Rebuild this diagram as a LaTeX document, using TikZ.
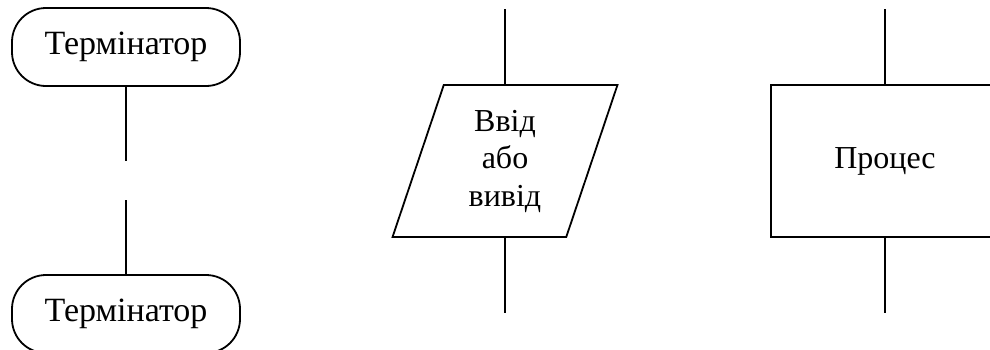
\documentclass[tikz,border=0pt]{standalone}
\usepackage{fontspec}
\setmainfont{Liberation Serif}
\usetikzlibrary{shapes.geometric}
\begin{document}
\begin{tikzpicture}[x=1pt,y=-1pt,
  line width=1.8pt,
  lbl/.style={font=\fontsize{32}{37.5}\selectfont, align=center},
  termbox/.style={lbl, font=\fontsize{34}{40}\selectfont, draw, rounded corners=34pt, minimum width=228pt, minimum height=78pt, inner sep=0pt, outer sep=0pt},
  iobox/.style={lbl, draw, trapezium, trapezium left angle=73.5, trapezium right angle=106.5, trapezium stretches=true, minimum width=225pt, minimum height=152pt, inner sep=0pt, outer sep=0pt},
  procbox/.style={lbl, draw, rectangle, minimum width=228pt, minimum height=152pt, inner sep=0pt, outer sep=0pt},
  conn/.style={draw, line width=1.8pt}
]
\useasboundingbox (0,0) rectangle (990,349);
\clip (0,0) rectangle (990,349);
\fill[white] (0,0) rectangle (990,349);
% left column
\node[termbox] (t1) at (126,47) {Термінатор};
\node[termbox] (t2) at (126,314) {Термінатор};
\coordinate (g1) at (126,161);
\coordinate (g2) at (126,200);
\draw[conn] (t1.south) -- (g1);
\draw[conn] (g2) -- (t2.north);
% middle column
\node[iobox] (io) at (505,161) {Ввід\\або\\вивід};
\coordinate (ioin) at (505,9);
\coordinate (ioout) at (505,313);
\draw[conn] (ioin) -- (io.north);
\draw[conn] (io.south) -- (ioout);
% right column
\node[procbox] (p) at (885,161) {Процес};
\coordinate (pin) at (885,9);
\coordinate (pout) at (885,313);
\draw[conn] (pin) -- (p.north);
\draw[conn] (p.south) -- (pout);
\end{tikzpicture}
\end{document}
